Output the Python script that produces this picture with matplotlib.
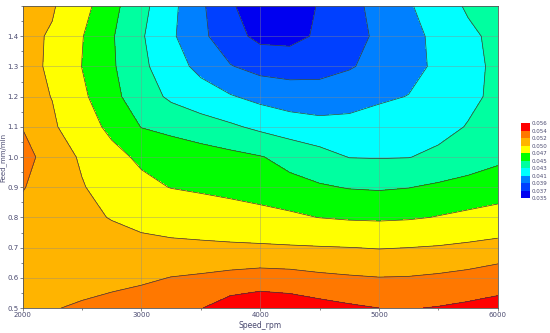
import numpy as np
import matplotlib
matplotlib.use("Agg")
import matplotlib.pyplot as plt
from matplotlib.ticker import MultipleLocator, FixedLocator

# grid (values in 1e-3 units)
speed_rpm = [2000, 2250, 2500, 2750, 3000, 3250, 3500, 3750, 4000,
             4250, 4500, 4750, 5000, 5250, 5500, 5750, 6000]
feed_mm_min = [0.5, 0.6, 0.7, 0.8, 0.9, 1.0, 1.1, 1.2, 1.3, 1.4, 1.5]

row_f050 = [51.6, 51.89, 52.25, 52.67, 53.08, 53.5, 53.92, 55.0, 55.5, 55.2, 54.7, 54.3, 54.0, 53.9, 54.1, 54.4, 54.8]
row_f060 = [51.4, 51.3, 51.25, 51.4, 51.65, 52.05, 52.25, 52.55, 52.8, 52.7, 52.4, 52.2, 52.05, 52.1, 52.3, 52.55, 52.85]
row_f070 = [51.4, 51.25, 51.1, 50.8, 50.5, 50.45, 50.45, 50.4, 50.35, 50.25, 50.14, 50.03, 49.9, 50.0, 50.2, 50.55, 51.0]
row_f080 = [51.5, 50.96, 50.43, 49.91, 49.49, 49.07, 48.65, 48.23, 47.81, 47.39, 46.96, 46.7, 46.6, 46.75, 47.1, 47.45, 47.8]
row_f090 = [52.1, 51.15, 50.15, 49.03, 47.7, 46.92, 46.58, 46.24, 45.89, 45.55, 45.2, 44.9, 44.8, 44.95, 45.3, 45.65, 46.0]
row_f100 = [52.6, 51.25, 49.7, 47.83, 46.5, 46.35, 45.93, 45.52, 45.1, 44.42, 43.67, 42.95, 42.9, 42.95, 43.4, 44.0, 44.6]
row_f110 = [51.95, 50.4, 48.29, 46.35, 44.95, 44.4, 43.84, 43.29, 42.6, 42.0, 41.7, 41.7, 41.9, 42.1, 42.4, 43.1, 44.0]
row_f120 = [51.0, 49.93, 47.39, 45.56, 43.91, 42.67, 41.91, 41.15, 40.45, 40.0, 39.8, 40.1, 40.7, 41.05, 41.82, 42.59, 43.4]
row_f130 = [50.9, 49.58, 46.97, 45.27, 43.42, 41.87, 40.46, 39.1, 38.35, 38.2, 38.4, 38.85, 39.54, 40.41, 41.35, 42.43, 43.4]
row_f140 = [50.8, 49.7, 47.09, 45.19, 43.21, 41.32, 39.48, 37.7, 36.5, 36.4, 37.3, 38.36, 39.31, 40.39, 41.49, 42.6, 43.5]
row_f150 = [50.7, 50.3, 47.73, 45.58, 43.58, 41.54, 39.36, 37.17, 36.2, 35.9, 37.15, 38.4, 39.61, 40.8, 42.02, 43.25, 44.0]

levels = [0.035, 0.037, 0.039, 0.041, 0.043, 0.045, 0.047, 0.050, 0.052, 0.054, 0.056]
band_colors = ['#0000f0', '#0040ff', '#0080ff', '#00ffff', '#00ffa0',
               '#00ff00', '#ffff00', '#ffb400', '#ff7800', '#ff0000']

Z = np.array([row_f050, row_f060, row_f070, row_f080, row_f090, row_f100,
              row_f110, row_f120, row_f130, row_f140, row_f150]) / 1000.0

txt = '#4a4a70'
fig = plt.figure(figsize=(5.5, 3.33), dpi=100)
ax = fig.add_axes([0.041, 0.075, 0.864, 0.907])

cs = ax.contourf(speed_rpm, feed_mm_min, Z, levels=levels, colors=band_colors)
ax.contour(speed_rpm, feed_mm_min, Z, levels=levels, colors='#3a3a3a',
           linewidths=0.5)

ax.set_xlim(2000, 6000)
ax.set_ylim(0.5, 1.5)
ax.xaxis.set_major_locator(MultipleLocator(1000))
ax.xaxis.set_minor_locator(MultipleLocator(500))
ax.yaxis.set_major_locator(FixedLocator([0.5, 0.6, 0.7, 0.8, 0.9, 1.0, 1.1, 1.2, 1.3, 1.4]))
ax.yaxis.set_minor_locator(MultipleLocator(0.05))
ax.tick_params(which='both', labelsize=5, colors='#555555', labelcolor=txt,
               length=2, width=0.5, pad=1)
ax.tick_params(which='minor', length=1.5)
ax.set_yticklabels(['0.5', '0.6', '0.7', '0.8', '0.9', '1.0', '1.1', '1.2', '1.3', '1.4'])
ax.grid(True, which='major', color='#8a8a8a', linewidth=0.5, alpha=0.55)

ax.set_xlabel('Speed_rpm', fontsize=5.5, color=txt, labelpad=2)
ax.set_ylabel('Feed_mm/min', fontsize=5, color=txt)
ax.yaxis.set_label_coords(-0.033, 0.5)
for s in ax.spines.values():
    s.set_color('#555555')
    s.set_linewidth(0.6)

cax = fig.add_axes([0.947, 0.405, 0.0165, 0.225])
cb = fig.colorbar(cs, cax=cax, ticks=levels)
cb.ax.set_yticklabels(['%.3f' % v for v in levels])
cb.ax.tick_params(labelsize=4, length=0, pad=1, labelcolor=txt)
cb.outline.set_visible(False)

fig.savefig('out.png', dpi=100)
